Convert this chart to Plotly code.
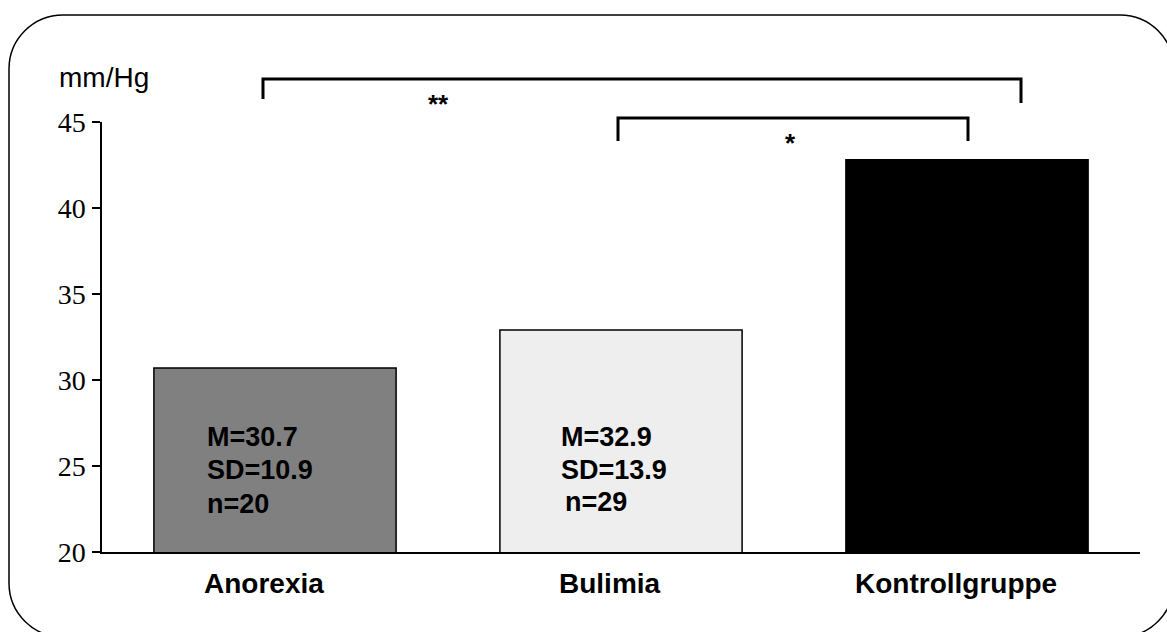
import plotly.graph_objects as go

# Mean arterial pressure by group
groups = ["Anorexia", "Bulimia", "Kontrollgruppe"]
means = [30.7, 32.9, 42.8]
sds = [10.9, 13.9, None]
ns = [20, 29, None]
bar_colors = ["#808080", "#eeeeee", "#000000"]

y_ticks = [20, 25, 30, 35, 40, 45]

# Figure geometry in pixels (used to place the frame and labels in paper units)
W, H = 1167, 632
ML, MR, MT, MB = 102, 27, 122, 80
PW, PH = W - ML - MR, H - MT - MB

SANS = "Liberation Sans, Arial, sans-serif"
SERIF = "Liberation Serif, Times New Roman, serif"


def px(x):
    return (x - ML) / PW


def py(y):
    return (H - MB - y) / PH


fig = go.Figure()
fig.add_trace(go.Bar(
    x=groups,
    y=means,
    marker=dict(color=bar_colors, line=dict(color="#000000", width=1.5)),
    width=0.7,
    hoverinfo="x+y",
))

# In-bar statistics labels, one annotation per line
stat_shift = [-70, -62]
line_y = [[437, 470, 504], [437, 470, 502]]
for i, g in enumerate(groups[:2]):
    lines = [f"M={means[i]}", f"SD={sds[i]}", f"n={ns[i]}"]
    for j, t in enumerate(lines):
        extra = 4 if (i == 1 and j == 2) else 0
        fig.add_annotation(
            x=g, xref="x", y=py(line_y[i][j]), yref="paper",
            text=f"<b>{t}</b>", showarrow=False,
            xanchor="left", yanchor="middle",
            xshift=stat_shift[i] + extra,
            font=dict(family=SANS, size=27, color="#000000"),
        )

# Category labels under the axis
for g in groups:
    fig.add_annotation(
        x=g, xref="x", y=py(583), yref="paper",
        text=f"<b>{g}</b>", showarrow=False,
        xanchor="center", yanchor="middle", xshift=-11,
        font=dict(family=SANS, size=28, color="#000000"),
    )

# Unit label
fig.add_annotation(
    x=px(57), xref="paper", y=py(77), yref="paper", text="mm/Hg",
    showarrow=False, xanchor="left", yanchor="middle",
    font=dict(family=SANS, size=28, color="#000000"),
)

# Significance brackets
bracket_line = dict(color="#000000", width=3)
brackets = [
    # (left x, right x, top y, left bottom, right bottom, star text, star x, star y)
    (263, 1021, 79, 99, 103, "**", 438, 104),
    (618, 968, 118, 141, 141, "*", 790, 143),
]
for x0, x1, yt, yl, yr, star, sx, sy in brackets:
    fig.add_shape(
        type="path", xref="paper", yref="paper",
        path=(f"M {px(x0)} {py(yl)} L {px(x0)} {py(yt)} "
              f"L {px(x1)} {py(yt)} L {px(x1)} {py(yr)}"),
        line=bracket_line,
    )
    fig.add_annotation(
        x=px(sx), xref="paper", y=py(sy), yref="paper", text=f"<b>{star}</b>",
        showarrow=False, xanchor="center", yanchor="middle",
        font=dict(family=SANS, size=26, color="#000000"),
    )

# Rounded outer frame
L, T, R, B, r = 9, 15, 1174, 637, 54
k = 0.5523 * r
frame = (
    f"M {px(L + r)} {py(T)} L {px(R - r)} {py(T)} "
    f"C {px(R - r + k)} {py(T)} {px(R)} {py(T + r - k)} {px(R)} {py(T + r)} "
    f"L {px(R)} {py(B - r)} "
    f"C {px(R)} {py(B - r + k)} {px(R - r + k)} {py(B)} {px(R - r)} {py(B)} "
    f"L {px(L + r)} {py(B)} "
    f"C {px(L + r - k)} {py(B)} {px(L)} {py(B - r + k)} {px(L)} {py(B - r)} "
    f"L {px(L)} {py(T + r)} "
    f"C {px(L)} {py(T + r - k)} {px(L + r - k)} {py(T)} {px(L + r)} {py(T)} Z"
)
fig.add_shape(type="path", xref="paper", yref="paper", path=frame,
              line=dict(color="#000000", width=1.5), layer="below")

fig.update_layout(
    width=W, height=H,
    margin=dict(l=ML, r=MR, t=MT, b=MB),
    paper_bgcolor="#ffffff", plot_bgcolor="#ffffff",
    showlegend=False,
    bargap=0.3,
    xaxis=dict(
        showline=True, linecolor="#000000", linewidth=1.5,
        ticks="", showgrid=False, zeroline=False, showticklabels=False,
    ),
    yaxis=dict(
        range=[20, 45], tickvals=y_ticks,
        showline=True, linecolor="#000000", linewidth=1.5,
        ticks="outside", ticklen=8, tickwidth=1.5, tickcolor="#000000",
        showgrid=False, zeroline=False,
        tickfont=dict(family=SERIF, size=28, color="#000000"),
        ticklabelstandoff=1,
    ),
)

fig.write_html("out.html")
